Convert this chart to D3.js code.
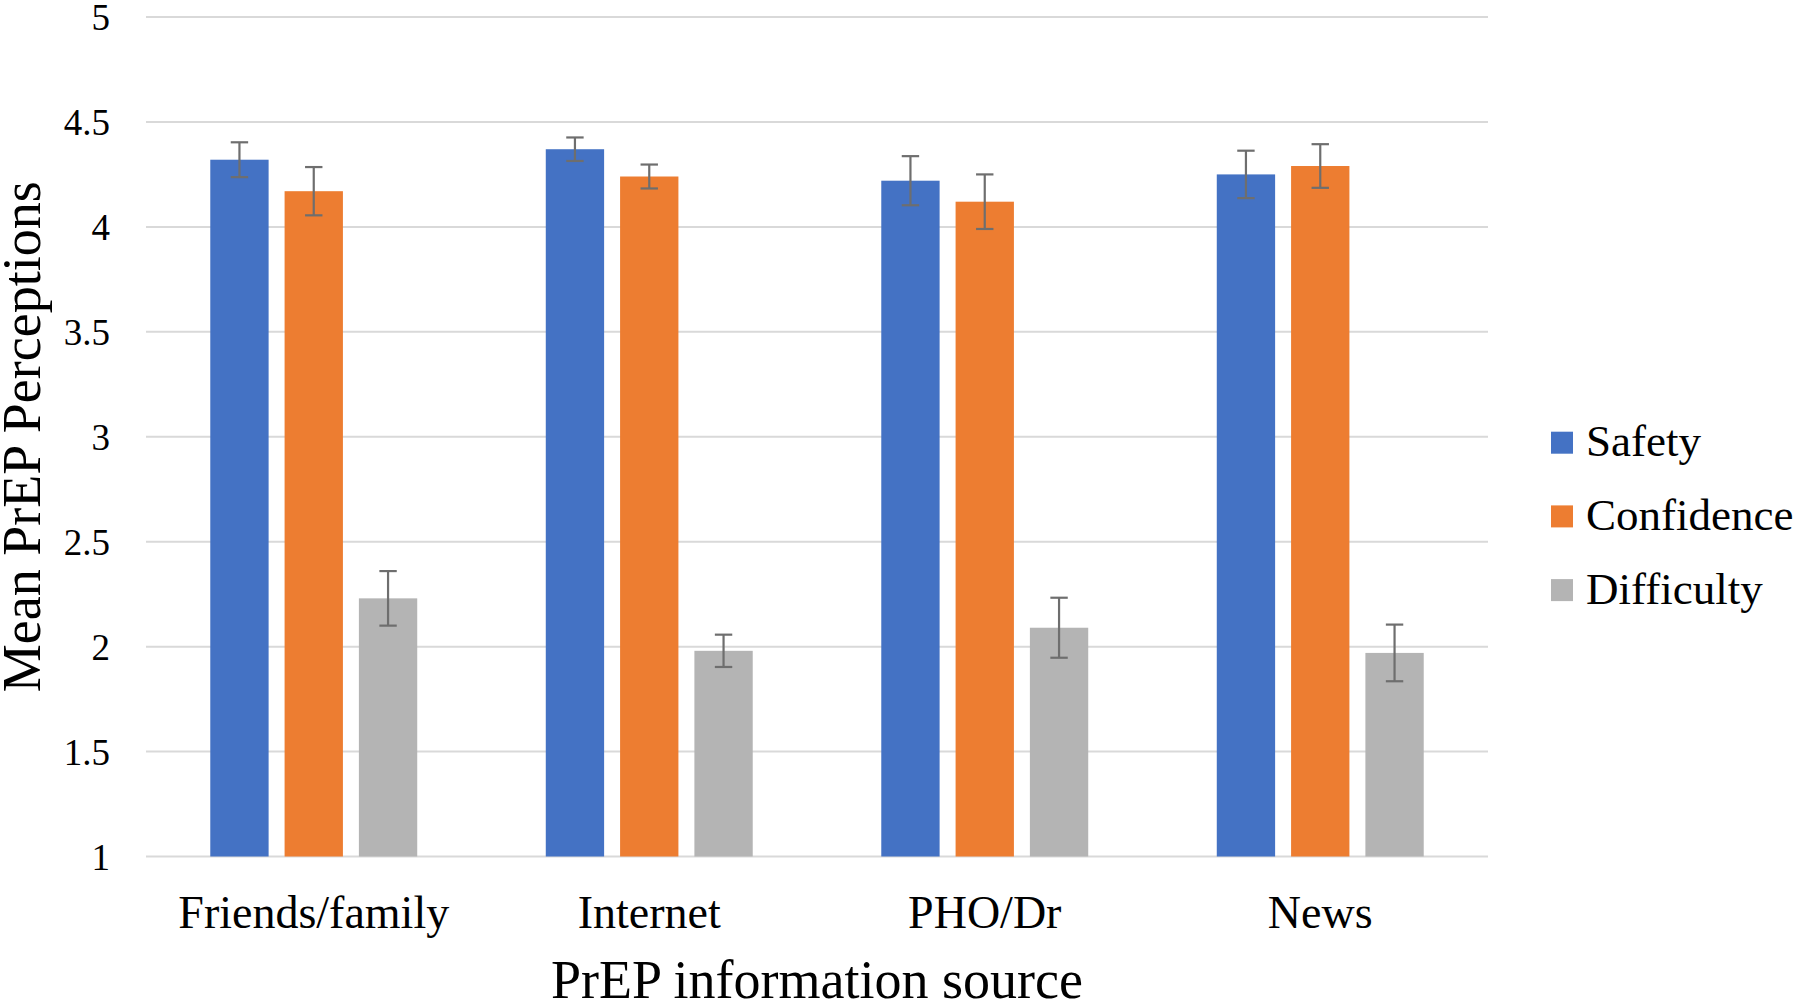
<!DOCTYPE html>
<html>
<head>
<meta charset="utf-8">
<script src="https://cdn.jsdelivr.net/npm/d3@7"></script>
<style>
  html, body { margin: 0; padding: 0; background: #fff; }
  svg { display: block; }
  text { font-family: "Liberation Serif", "Times New Roman", serif; fill: #000; }
</style>
</head>
<body>
<svg id="chart" width="1800" height="1008"></svg>
<script>
const categories = ["Friends/family", "Internet", "PHO/Dr", "News"];
const seriesNames = ["Safety", "Confidence", "Difficulty"];
const safety = [4.32, 4.37, 4.22, 4.25];
const confidence = [4.17, 4.24, 4.12, 4.29];
const difficulty = [2.23, 1.98, 2.09, 1.97];
const safetyErr = [0.083, 0.056, 0.117, 0.113];
const confidenceErr = [0.115, 0.057, 0.13, 0.104];
const difficultyErr = [0.13, 0.077, 0.143, 0.135];
const yTicks = [1, 1.5, 2, 2.5, 3, 3.5, 4, 4.5, 5];
const colors = ["#4472C4", "#ED7D31", "#B4B4B4"];

(function () {
const values = [safety, confidence, difficulty];
const errs = [safetyErr, confidenceErr, difficultyErr];

const svg = d3.select("#chart");
const pLeft = 146, pRight = 1488, pTop = 17, pBottom = 856.5;

const x0 = d3.scaleBand().domain(categories).range([pLeft, pRight]).padding(0);
const x1 = d3.scaleBand().domain(seriesNames).range([0, x0.bandwidth()])
  .paddingInner(0.215).paddingOuter(0.865);
const y = d3.scaleLinear().domain([1, 5]).range([pBottom, pTop]);

// gridlines
svg.append("g").selectAll("line").data(yTicks).join("line")
  .attr("x1", pLeft).attr("x2", pRight)
  .attr("y1", d => y(d)).attr("y2", d => y(d))
  .attr("stroke", "#d9d9d9").attr("stroke-width", 2);

// y tick labels
svg.append("g").selectAll("text").data(yTicks).join("text")
  .attr("x", 110).attr("y", d => y(d)).attr("dy", "0.36em")
  .attr("text-anchor", "end").attr("font-size", 37)
  .text(d => d);

// bars
const rows = [];
categories.forEach((c, i) => {
  seriesNames.forEach((s, j) => {
    rows.push({ c, s, j, v: values[j][i], e: errs[j][i] });
  });
});

svg.append("g").selectAll("rect").data(rows).join("rect")
  .attr("x", d => x0(d.c) + x1(d.s))
  .attr("width", x1.bandwidth())
  .attr("y", d => y(d.v))
  .attr("height", d => y(1) - y(d.v))
  .attr("fill", d => colors[d.j]);

// error bars
const eb = svg.append("g").attr("stroke", "#6e6e6e").attr("stroke-width", 2.2);
rows.forEach(d => {
  const cx = x0(d.c) + x1(d.s) + x1.bandwidth() / 2;
  const yt = y(d.v + d.e), yb = y(d.v - d.e);
  eb.append("line").attr("x1", cx).attr("x2", cx).attr("y1", yt).attr("y2", yb);
  eb.append("line").attr("x1", cx - 8.7).attr("x2", cx + 8.7).attr("y1", yt).attr("y2", yt);
  eb.append("line").attr("x1", cx - 8.7).attr("x2", cx + 8.7).attr("y1", yb).attr("y2", yb);
});

// category labels
svg.append("g").selectAll("text").data(categories).join("text")
  .attr("x", d => x0(d) + x0.bandwidth() / 2)
  .attr("y", 928)
  .attr("text-anchor", "middle").attr("font-size", 46)
  .text(d => d);

// x axis title
svg.append("text")
  .attr("x", (pLeft + pRight) / 2).attr("y", 998)
  .attr("text-anchor", "middle").attr("font-size", 54)
  .text("PrEP information source");

// y axis title
svg.append("text")
  .attr("transform", `translate(40, ${(pTop + pBottom) / 2}) rotate(-90)`)
  .attr("text-anchor", "middle").attr("font-size", 54)
  .text("Mean PrEP Perceptions");

// legend
const lg = svg.append("g");
seriesNames.forEach((s, j) => {
  const yy = 431.7 + j * 73.7;
  lg.append("rect").attr("x", 1551).attr("y", yy).attr("width", 22).attr("height", 22)
    .attr("fill", colors[j]);
  lg.append("text").attr("x", 1586).attr("y", yy + 24.5).attr("font-size", 45).text(s);
});
})();
</script>
</body>
</html>
